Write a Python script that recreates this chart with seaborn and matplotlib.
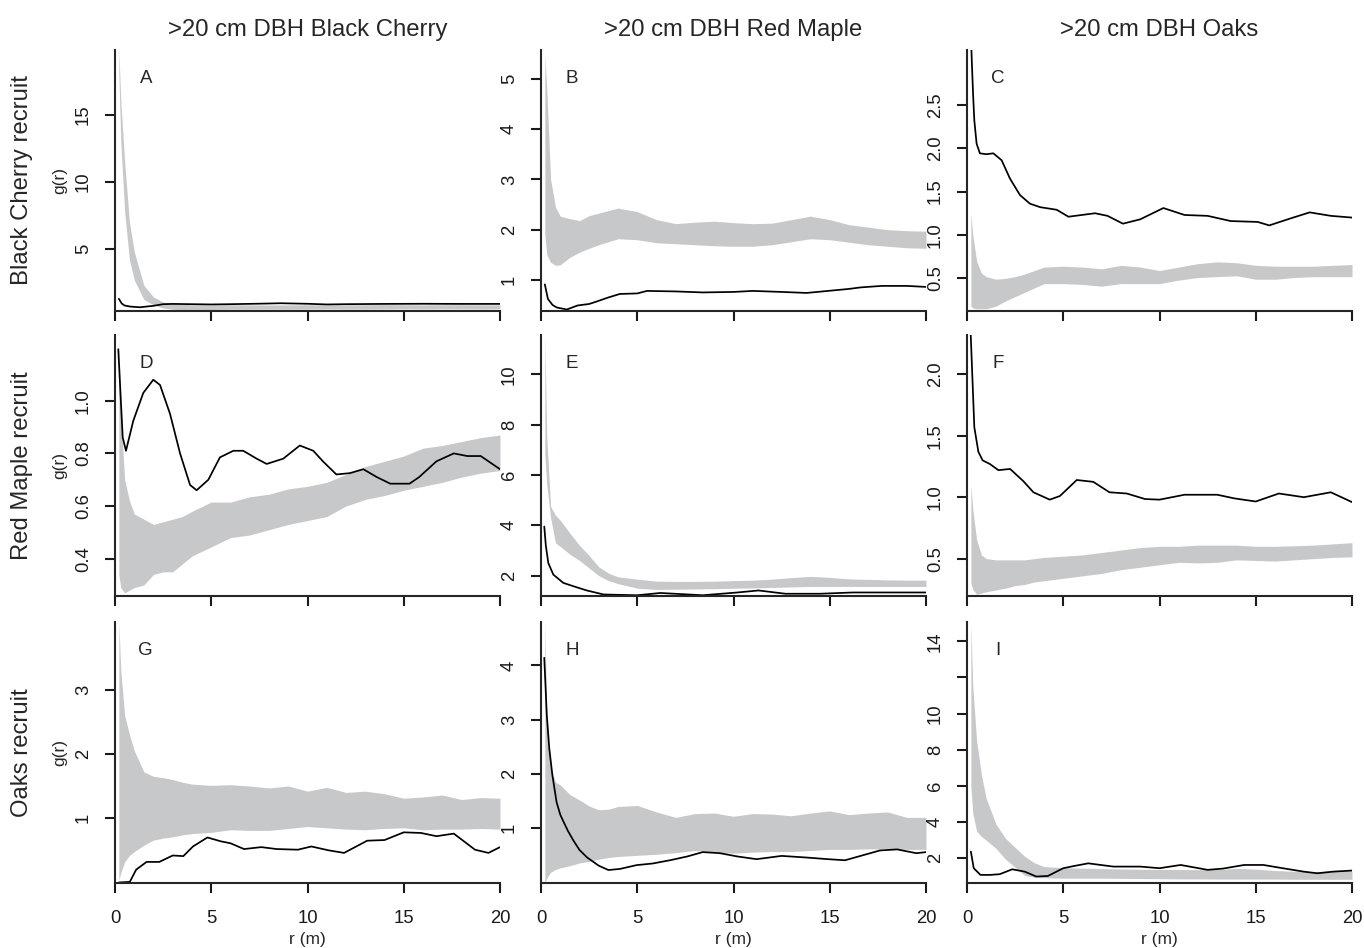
# plot.py
# 3x3 grid of pair-correlation g(r) curves with simulation envelopes
# (recruits by row, >20 cm DBH adults by column).

import numpy as np
import pandas as pd
import seaborn as sns
import matplotlib.pyplot as plt

COL_TITLES = [">20 cm DBH Black Cherry", ">20 cm DBH Red Maple", ">20 cm DBH Oaks"]
ROW_LABELS = ["Black Cherry recruit", "Red Maple recruit", "Oaks recruit"]
LETTERS = ["A", "B", "C", "D", "E", "F", "G", "H", "I"]
X_TICKS = [0, 5, 10, 15, 20]

# distances where the envelope edges were read
R_ENV = [0.2, 0.3, 0.5, 0.75, 1, 1.5, 2, 2.5, 3, 3.5, 4, 5, 6, 7, 8, 9, 10,
         11, 12, 13, 14, 15, 16, 17, 18, 19, 20]

# --- A: black cherry recruit vs black cherry adult
A_HI = [19.8, 16.1, 11.5, 7.0, 4.8, 2.3, 1.43, 1.05, 0.95, 0.9, 0.85, 0.85, 0.86,
        0.85, 0.84, 0.85, 0.86, 0.85, 0.85, 0.86, 0.87, 0.86, 0.85, 0.86, 0.86, 0.85, 0.85]
A_LO = [18.0, 13.0, 7.8, 4.2, 2.7, 1.25, 0.85, 0.62, 0.52, 0.48, 0.47, 0.5, 0.52,
        0.52, 0.53, 0.52, 0.53, 0.54, 0.53, 0.53, 0.54, 0.55, 0.54, 0.55, 0.55, 0.54, 0.55]
A_R = [0.2, 0.35, 0.5, 0.8, 1.3, 2, 2.5, 3, 4, 5, 6, 8, 8.6, 10, 11, 12, 14, 16, 18, 20]
A_G = [1.3, 0.95, 0.8, 0.72, 0.67, 0.78, 0.9, 0.92, 0.9, 0.88, 0.9, 0.95, 0.97,
       0.93, 0.88, 0.9, 0.92, 0.93, 0.92, 0.92]

# --- B: black cherry recruit vs red maple adult
B_HI = [5.5, 4.8, 3.0, 2.45, 2.27, 2.22, 2.18, 2.28, 2.33, 2.38, 2.43, 2.36, 2.2,
        2.12, 2.15, 2.17, 2.14, 2.12, 2.13, 2.2, 2.27, 2.2, 2.1, 2.05, 2.0, 1.98, 1.97]
B_LO = [1.9, 1.5, 1.35, 1.29, 1.3, 1.45, 1.55, 1.63, 1.7, 1.76, 1.82, 1.8, 1.74,
        1.72, 1.7, 1.68, 1.67, 1.67, 1.7, 1.76, 1.82, 1.8, 1.75, 1.7, 1.67, 1.64, 1.63]
B_R = [0.2, 0.36, 0.6, 0.82, 1.34, 1.9, 2.5, 2.9, 3.5, 4.1, 5, 5.5, 7, 8.4, 10,
       11, 12.5, 13.8, 14.9, 16, 16.6, 17.7, 19, 20]
B_G = [0.91, 0.62, 0.5, 0.45, 0.41, 0.49, 0.52, 0.57, 0.65, 0.72, 0.73, 0.78, 0.77,
       0.75, 0.76, 0.78, 0.76, 0.74, 0.78, 0.82, 0.85, 0.88, 0.88, 0.86]

# --- C: black cherry recruit vs oak adult
C_HI = [1.25, 1.0, 0.7, 0.56, 0.52, 0.49, 0.5, 0.52, 0.55, 0.59, 0.63, 0.64, 0.63,
        0.61, 0.65, 0.63, 0.59, 0.63, 0.67, 0.69, 0.68, 0.65, 0.64, 0.64, 0.64, 0.65, 0.66]
C_LO = [0.18, 0.16, 0.15, 0.15, 0.15, 0.18, 0.24, 0.29, 0.34, 0.39, 0.44, 0.44, 0.43,
        0.41, 0.44, 0.44, 0.44, 0.48, 0.51, 0.52, 0.53, 0.49, 0.49, 0.51, 0.52, 0.52, 0.52]
C_R = [0.16, 0.25, 0.32, 0.38, 0.5, 0.67, 1.0, 1.37, 1.8, 2.23, 2.75, 3.27, 3.8,
       4.66, 5.27, 6.65, 7.3, 8.1, 9.0, 10.2, 11.3, 12.5, 13.7, 15.1, 15.7, 16.8,
       17.8, 18.9, 20]
C_G = [3.6, 3.0, 2.6, 2.32, 2.05, 1.94, 1.93, 1.94, 1.86, 1.65, 1.46, 1.36, 1.32,
       1.29, 1.21, 1.25, 1.22, 1.13, 1.18, 1.31, 1.23, 1.22, 1.16, 1.15, 1.11, 1.19,
       1.26, 1.22, 1.20]

# --- D: red maple recruit vs black cherry adult
D_HI = [1.24, 0.95, 0.7, 0.62, 0.57, 0.55, 0.53, 0.54, 0.55, 0.56, 0.58, 0.615, 0.615,
        0.635, 0.645, 0.665, 0.675, 0.69, 0.72, 0.75, 0.77, 0.79, 0.82, 0.83, 0.845, 0.86, 0.87]
D_LO = [0.34, 0.29, 0.27, 0.28, 0.29, 0.30, 0.34, 0.35, 0.35, 0.38, 0.41, 0.445, 0.48,
        0.49, 0.51, 0.53, 0.545, 0.56, 0.60, 0.625, 0.64, 0.66, 0.675, 0.69, 0.71, 0.725, 0.735]
D_R = [0.17, 0.4, 0.57, 0.95, 1.47, 1.99, 2.34, 2.86, 3.38, 3.9, 4.24, 4.85, 5.45,
       6.15, 6.66, 7.36, 7.88, 8.74, 9.6, 10.3, 10.8, 11.5, 12.2, 12.9, 13.6, 14.3,
       15.3, 15.8, 16.7, 17.6, 18.3, 19.0, 20]
D_G = [1.196, 0.861, 0.81, 0.924, 1.03, 1.08, 1.06, 0.95, 0.80, 0.68, 0.66, 0.70,
       0.785, 0.81, 0.81, 0.78, 0.76, 0.78, 0.83, 0.81, 0.77, 0.72, 0.725, 0.74,
       0.71, 0.685, 0.685, 0.71, 0.77, 0.80, 0.79, 0.79, 0.74]

# --- E: red maple recruit vs red maple adult
E_HI = [11.5, 7.5, 4.75, 4.4, 4.2, 3.69, 3.2, 2.8, 2.35, 2.1, 1.95, 1.86, 1.78,
        1.77, 1.77, 1.78, 1.8, 1.82, 1.86, 1.92, 1.97, 1.93, 1.87, 1.85, 1.83, 1.82, 1.82]
E_LO = [6.8, 5.6, 4.3, 3.3, 3.16, 2.85, 2.6, 2.3, 2.0, 1.8, 1.68, 1.5, 1.45,
        1.46, 1.47, 1.48, 1.5, 1.51, 1.53, 1.55, 1.57, 1.57, 1.57, 1.57, 1.57, 1.57, 1.57]
E_R = [0.17, 0.25, 0.38, 0.64, 1.16, 1.8, 2.38, 3.25, 5, 6.2, 8.4, 10.2, 11.3, 12.7,
       14.5, 16.2, 20]
E_G = [3.95, 3.2, 2.5, 2.04, 1.71, 1.55, 1.41, 1.25, 1.22, 1.31, 1.22, 1.33, 1.41,
       1.28, 1.28, 1.33, 1.33]

# --- F: red maple recruit vs oak adult
F_HI = [1.1, 0.9, 0.655, 0.53, 0.5, 0.49, 0.49, 0.49, 0.49, 0.5, 0.51, 0.52, 0.53,
        0.55, 0.57, 0.59, 0.6, 0.6, 0.61, 0.61, 0.61, 0.6, 0.6, 0.605, 0.61, 0.62, 0.63]
F_LO = [0.3, 0.25, 0.21, 0.22, 0.23, 0.245, 0.26, 0.28, 0.29, 0.31, 0.32, 0.34, 0.36,
        0.38, 0.41, 0.43, 0.45, 0.47, 0.465, 0.47, 0.49, 0.485, 0.48, 0.49, 0.5, 0.51, 0.515]
F_R = [0.15, 0.38, 0.59, 0.81, 1.19, 1.63, 2.24, 2.93, 3.45, 4.3, 4.83, 5.7, 6.56,
       7.4, 8.3, 9.25, 10, 11.3, 13, 13.9, 15, 16.2, 17.5, 18.9, 20]
F_G = [2.5, 1.57, 1.37, 1.30, 1.27, 1.22, 1.23, 1.13, 1.04, 0.98, 1.01, 1.14, 1.125,
       1.04, 1.03, 0.985, 0.98, 1.02, 1.02, 0.99, 0.965, 1.03, 1.00, 1.04, 0.96]

# --- G: oak recruit vs black cherry adult
G_HI = [4.04, 3.3, 2.6, 2.3, 2.05, 1.72, 1.65, 1.63, 1.6, 1.56, 1.53, 1.51, 1.52,
        1.5, 1.47, 1.5, 1.42, 1.48, 1.4, 1.42, 1.38, 1.31, 1.33, 1.36, 1.29, 1.32, 1.31]
G_LO = [0.04, 0.15, 0.32, 0.42, 0.48, 0.58, 0.66, 0.69, 0.71, 0.74, 0.76, 0.78, 0.82,
        0.81, 0.81, 0.84, 0.87, 0.85, 0.83, 0.82, 0.84, 0.85, 0.82, 0.83, 0.83, 0.84, 0.83]
G_R = [0.2, 0.77, 1.1, 1.64, 2.3, 3.0, 3.55, 4.05, 4.8, 5.5, 6.0, 6.7, 7.6, 8.4,
       9.5, 10.2, 11.1, 11.9, 13.1, 14, 15, 15.9, 16.7, 17.6, 18.7, 19.4, 20]
G_G = [0.0, 0.01, 0.2, 0.32, 0.32, 0.42, 0.41, 0.56, 0.70, 0.64, 0.61, 0.52, 0.55,
       0.52, 0.51, 0.56, 0.50, 0.46, 0.65, 0.66, 0.78, 0.77, 0.72, 0.76, 0.51, 0.46, 0.55]

# --- H: oak recruit vs red maple adult
H_HI = [4.8, 3.0, 2.13, 1.85, 1.8, 1.62, 1.52, 1.41, 1.34, 1.35, 1.4, 1.42, 1.3,
        1.2, 1.27, 1.28, 1.22, 1.27, 1.26, 1.23, 1.28, 1.32, 1.25, 1.28, 1.3, 1.2, 1.2]
H_LO = [0.0, 0.08, 0.19, 0.24, 0.27, 0.31, 0.36, 0.39, 0.43, 0.46, 0.48, 0.5, 0.52,
        0.55, 0.59, 0.56, 0.54, 0.56, 0.57, 0.57, 0.59, 0.61, 0.61, 0.62, 0.62, 0.61, 0.61]
H_R = [0.17, 0.3, 0.43, 0.59, 0.81, 1.0, 1.17, 1.4, 1.69, 2.0, 2.4, 3.0, 3.5, 4.1,
       4.96, 5.8, 6.7, 7.6, 8.4, 9.3, 10.2, 11.2, 12.5, 13.8, 14.9, 15.8, 16.6,
       17.6, 18.5, 19.5, 20]
H_G = [4.14, 3.09, 2.47, 1.98, 1.48, 1.25, 1.12, 0.95, 0.77, 0.6, 0.46, 0.31, 0.23,
       0.25, 0.32, 0.35, 0.41, 0.48, 0.56, 0.54, 0.48, 0.43, 0.49, 0.46, 0.43, 0.41,
       0.49, 0.59, 0.61, 0.54, 0.56]

# --- I: oak recruit vs oak adult
I_HI = [15.0, 11.5, 8.5, 6.6, 5.3, 3.9, 3.1, 2.6, 2.1, 1.75, 1.54, 1.48, 1.45,
        1.43, 1.41, 1.39, 1.38, 1.38, 1.37, 1.38, 1.44, 1.4, 1.32, 1.28, 1.27, 1.28, 1.3]
I_LO = [6.0, 4.5, 3.5, 3.2, 3.0, 2.55, 1.95, 1.5, 1.05, 0.95, 0.92, 0.9, 0.9,
        0.9, 0.89, 0.88, 0.87, 0.86, 0.86, 0.85, 0.85, 0.85, 0.85, 0.84, 0.84, 0.84, 0.84]
I_R = [0.2, 0.35, 0.7, 1.2, 1.7, 2.35, 3.0, 3.6, 4.2, 5.0, 5.6, 6.3, 7.6, 9.0, 10,
       11.1, 12.5, 13.3, 14.4, 15.4, 16.4, 17.5, 18.2, 19.0, 20]
I_G = [2.37, 1.45, 1.08, 1.08, 1.12, 1.39, 1.26, 0.99, 1.02, 1.45, 1.58, 1.72, 1.54,
       1.54, 1.45, 1.63, 1.36, 1.43, 1.63, 1.63, 1.45, 1.26, 1.17, 1.26, 1.32]

# y-axis ranges and ticks per panel (A..I)
Y_LIMS = [(0.43, 19.8), (0.39, 5.58), (0.13, 3.13),
          (0.26, 1.25), (1.21, 11.56), (0.2, 2.32),
          (0.0, 4.05), (0.0, 4.8), (0.66, 15.07)]
Y_TICKS = [[5, 10, 15], [1, 2, 3, 4, 5], [0.5, 1.0, 1.5, 2.0, 2.5],
           [0.4, 0.6, 0.8, 1.0], [2, 4, 6, 8, 10], [0.5, 1.0, 1.5, 2.0],
           [1, 2, 3], [1, 2, 3, 4], [2, 4, 6, 8, 10, 12, 14]]
Y_TICKLABELS = [["5", "10", "15"], ["1", "2", "3", "4", "5"],
                ["0.5", "1.0", "1.5", "2.0", "2.5"],
                ["0.4", "0.6", "0.8", "1.0"], ["2", "4", "6", "8", "10"],
                ["0.5", "1.0", "1.5", "2.0"],
                ["1", "2", "3"], ["1", "2", "3", "4"],
                ["2", "4", "6", "8", "10", "", "14"]]

ENV_HI = [A_HI, B_HI, C_HI, D_HI, E_HI, F_HI, G_HI, H_HI, I_HI]
ENV_LO = [A_LO, B_LO, C_LO, D_LO, E_LO, F_LO, G_LO, H_LO, I_LO]
OBS_R = [A_R, B_R, C_R, D_R, E_R, F_R, G_R, H_R, I_R]
OBS_G = [A_G, B_G, C_G, D_G, E_G, F_G, G_G, H_G, I_G]

GREY = "#c7c8ca"


def main():
    sns.set_style("ticks")
    plt.rcParams["font.family"] = ["Liberation Sans", "DejaVu Sans"]

    W, H = 1364, 948
    fig = plt.figure(figsize=(W / 100, H / 100), dpi=100)

    lefts = [115, 541, 967]
    tops = [50, 335, 622]
    aw, ah = 385, 260.5

    for i in range(9):
        row, col = divmod(i, 3)
        ax = fig.add_axes([lefts[col] / W, 1 - (tops[row] + ah) / H, aw / W, ah / H])

        env = pd.DataFrame({"r": R_ENV, "lo": ENV_LO[i], "hi": ENV_HI[i]})
        ax.fill_between(env["r"], env["lo"], env["hi"], color=GREY, lw=0)

        obs = pd.DataFrame({"r": OBS_R[i], "g": OBS_G[i]})
        sns.lineplot(data=obs, x="r", y="g", ax=ax, color="black", lw=1.25,
                     estimator=None, sort=False)

        ax.set_xlim(0, 20)
        ax.set_ylim(*Y_LIMS[i])
        ax.set_xticks(X_TICKS)
        ax.set_yticks(Y_TICKS[i])
        ax.set_yticklabels(Y_TICKLABELS[i], rotation=90, va="center")
        if row == 2:
            ax.set_xticklabels([str(t) for t in X_TICKS])
            ax.set_xlabel("r (m)", fontsize=12.5, labelpad=3.5)
        else:
            ax.set_xticklabels([])
            ax.set_xlabel("")

        for s in ["top", "right"]:
            ax.spines[s].set_visible(False)
        for s in ["left", "bottom"]:
            ax.spines[s].set_linewidth(1.5)
        ax.tick_params(direction="out", length=7, width=1.5, labelsize=13.3,
                       colors="#1a1a1a")
        ax.tick_params(axis="y", pad=9.7)
        ax.tick_params(axis="x", pad=13)

        if col == 0:
            ax.set_ylabel("g(r)", fontsize=12.5)
            ax.yaxis.label.set_va("center")
            ax.yaxis.set_label_coords(-55 / aw, 0.5)
            ax.text(-93 / aw, 0.5, ROW_LABELS[row], transform=ax.transAxes,
                    rotation=90, ha="center", va="center", fontsize=17.2)
        else:
            ax.set_ylabel("")

        if row == 0:
            ax.set_title(COL_TITLES[col], fontsize=17.2, pad=10)

        ax.text(0.08, 0.89, LETTERS[i], transform=ax.transAxes,
                ha="center", va="center", fontsize=13.5)

    fig.savefig("out.png", dpi=100, facecolor="white")
    plt.close(fig)


if __name__ == "__main__":
    main()
